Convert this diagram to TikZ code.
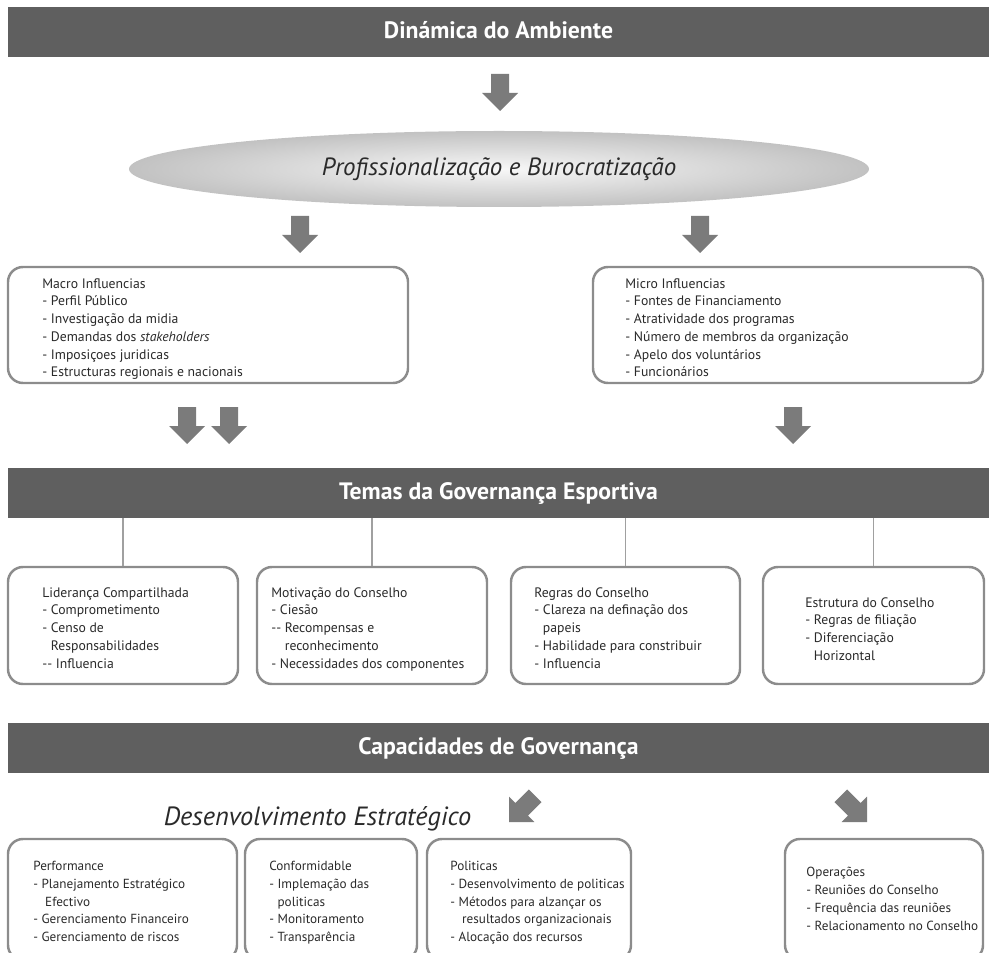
\documentclass[tikz,border=0pt]{standalone}
\usepackage{fontspec}
\setmainfont{PT Sans}
\usetikzlibrary{shapes.geometric}
\definecolor{barc}{HTML}{5F5F5F}
\definecolor{arrc}{HTML}{7B7B7B}
\definecolor{boxc}{HTML}{8C8C8C}
\definecolor{linec}{HTML}{A0A0A0}
\definecolor{txtc}{HTML}{2A2A2A}
\begin{document}
\begin{tikzpicture}[x=0.02cm,y=-0.02cm,
  sz/.style 2 args={minimum width=#1*0.02cm, minimum height=#2*0.02cm},
  bar/.style={fill=barc, draw=none, sz={981}{50}, inner sep=0, text=white,
    text height=0.72em, text depth=0pt, font=\fontsize{13.5}{16}\selectfont\bfseries},
  panel/.style={draw=boxc, line width=1.4pt, rounded corners=8.5pt, inner sep=0, fill=white},
  body/.style={anchor=north west, inner sep=0, align=left, text=txtc,
    font=\fontsize{7.8}{10.1}\selectfont},
  smallbody/.style={body, font=\fontsize{7.5}{10.1}\selectfont},
  conn/.style={draw=linec, line width=1.1pt},
  blockarrow/.pic={\fill[arrc] (0,0) -- (-18,-18) -- (-9,-18) -- (-9,-37) -- (9,-37) -- (9,-18) -- (18,-18) -- cycle;}
]
\useasboundingbox (0,0) rectangle (989,952);
\clip (0,0) rectangle (989,952);

% headers
\node[bar] (hdr1) at (498.5,32) {Dinámica do Ambiente};
\node[bar] (hdr2) at (498.5,493) {Temas da Governança Esportiva};
\node[bar] (hdr3) at (498.5,748) {Capacidades de Governança};

% ellipse
\node[ellipse, inner color=gray!6, outer color=gray!48, sz={740}{76}, inner sep=0,
  text=txtc, font=\fontsize{14.2}{17}\selectfont\itshape] (prof) at (499,169)
  {Profissionalização e Burocratização};

% block arrows
\pic at (500,111) {blockarrow};
\pic at (300,253) {blockarrow};
\pic at (700,253) {blockarrow};
\pic at (187,444) {blockarrow};
\pic at (229,444) {blockarrow};
\pic at (793,444) {blockarrow};
\pic[rotate=-45] at (509,822) {blockarrow};
\pic[rotate=45] at (867,822) {blockarrow};

% influence boxes
\node[panel, sz={400}{116}] (macro) at (208,325) {};
\node[panel, sz={390}{116}] (micro) at (788,325) {};
\node[body] (macrotxt) at (42,278) {Macro Influencias\\- Perfil Público\\- Investigação da midia\\- Demandas dos \textit{stakeholders}\\- Imposiçoes juridicas\\- Estructuras regionais e nacionais};
\node[body] (microtxt) at (625,278) {Micro Influencias\\- Fontes de Financiamento\\- Atratividade dos programas\\- Número de membros da organização\\- Apelo dos voluntários\\- Funcionários};

% theme boxes
\node[panel, sz={230}{117}] (b1) at (123,625.5) {};
\node[panel, sz={230}{117}] (b2) at (372,625.5) {};
\node[panel, sz={229}{117}] (b3) at (625.5,625.5) {};
\node[panel, sz={221}{117}] (b4) at (873.5,625.5) {};
\foreach \b in {b1,b2,b3,b4} \draw[conn] (\b.north) -- (\b.north |- hdr2.south);
\node[body] (t1) at (42,587) {Liderança Compartilhada\\- Comprometimento\\- Censo de\\\phantom{- }Responsabilidades\\-{}- Influencia};
\node[body] (t2) at (271,587) {Motivação do Conselho\\- Ciesão\\-{}- Recompensas e\\\phantom{-{}- }reconhecimento\\- Necessidades dos componentes};
\node[body] (t3) at (534,587) {Regras do Conselho\\- Clareza na definação dos\\\phantom{- }papeis\\- Habilidade para constribuir\\- Influencia};
\node[body] (t4) at (805,597) {Estrutura do Conselho\\- Regras de filiação\\- Diferenciação\\\phantom{- }Horizontal};

% capacities
\node[anchor=base, inner sep=0, text=txtc, font=\fontsize{15}{18}\selectfont\itshape] (desenv) at (317.5,825) {Desenvolvimento Estratégico};
\node[panel, sz={229}{121}] (c1) at (122.5,899.5) {};
\node[panel, sz={172}{121}] (c2) at (331,899.5) {};
\node[panel, sz={204}{121}] (c3) at (529,899.5) {};
\node[panel, sz={198}{121}] (c4) at (884,899.5) {};
\node[smallbody] (u1) at (33,861) {Performance\\- Planejamento Estratégico\\\hspace*{0.9em}Efectivo\\- Gerenciamento Financeiro\\- Gerenciamento de riscos};
\node[smallbody] (u2) at (269,861) {Conformidable\\- Implemação das\\\phantom{- }politicas\\- Monitoramento\\- Transparência};
\node[smallbody] (u3) at (450,861) {Politicas\\- Desenvolvimento de politicas\\- Métodos para alzançar os\\\hspace*{0.9em}resultados organizacionais\\- Alocação dos recursos};
\node[smallbody] (u4) at (806,867) {Operações\\- Reuniões do Conselho\\- Frequência das reuniões\\- Relacionamento no Conselho};
\end{tikzpicture}
\end{document}
